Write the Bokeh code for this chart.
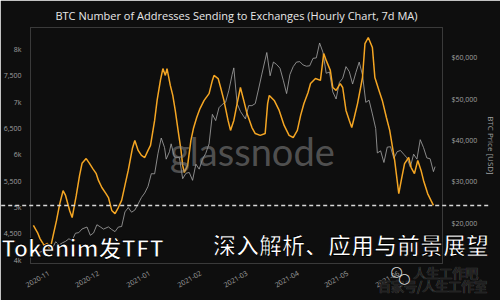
import math
from datetime import datetime
import pandas as pd
from bokeh.plotting import figure
from bokeh.models import (Range1d, LinearAxis, FixedTicker, DatetimeTickFormatter,
                          NumeralTickFormatter, ColumnDataSource)
from bokeh.core.properties import value
from bokeh.embed import file_html
from bokeh.resources import INLINE

# ---------------- data ----------------
title_text = "BTC Number of Addresses Sending to Exchanges (Hourly Chart, 7d MA)"
right_axis_title = "BTC Price [USD]"

addr_dates = [
    "2020-10-22 12:00", "2020-10-25", "2020-10-26 12:00", "2020-10-29", "2020-10-31",
    "2020-11-01 12:00", "2020-11-03 12:00", "2020-11-05 12:00", "2020-11-07 12:00", "2020-11-09 12:00",
    "2020-11-11", "2020-11-13 12:00", "2020-11-15", "2020-11-17 12:00", "2020-11-19 12:00",
    "2020-11-21", "2020-11-23 12:00", "2020-11-25 12:00", "2020-11-27 12:00", "2020-11-29 12:00",
    "2020-12-01", "2020-12-03", "2020-12-05 12:00", "2020-12-07", "2020-12-09",
    "2020-12-11", "2020-12-13", "2020-12-15", "2020-12-17", "2020-12-19",
    "2020-12-21 12:00", "2020-12-23", "2020-12-25", "2020-12-27", "2020-12-29",
    "2020-12-31", "2021-01-01 12:00", "2021-01-04", "2021-01-05 12:00", "2021-01-07 12:00",
    "2021-01-09", "2021-01-10 12:00", "2021-01-11 12:00", "2021-01-13 12:00", "2021-01-15",
    "2021-01-16 12:00", "2021-01-18 12:00", "2021-01-20", "2021-01-21", "2021-01-22",
    "2021-01-24", "2021-01-26", "2021-01-27 12:00", "2021-01-29 12:00", "2021-01-31 12:00",
    "2021-02-03", "2021-02-06", "2021-02-08", "2021-02-09", "2021-02-11 12:00",
    "2021-02-13", "2021-02-15", "2021-02-17 12:00", "2021-02-19", "2021-02-21",
    "2021-02-23", "2021-02-25", "2021-02-27", "2021-03-01", "2021-03-04",
    "2021-03-06", "2021-03-09", "2021-03-12", "2021-03-13 12:00", "2021-03-14 12:00",
    "2021-03-17 12:00", "2021-03-20 12:00", "2021-03-23 12:00", "2021-03-26 12:00", "2021-03-29",
    "2021-03-31 12:00", "2021-04-02 12:00", "2021-04-04 12:00", "2021-04-07", "2021-04-08 12:00",
    "2021-04-11 12:00", "2021-04-14 12:00", "2021-04-16 12:00", "2021-04-18", "2021-04-20 12:00",
    "2021-04-22", "2021-04-24", "2021-04-26 12:00", "2021-04-28", "2021-04-30",
    "2021-05-02", "2021-05-03 12:00", "2021-05-05", "2021-05-07", "2021-05-10",
    "2021-05-11 12:00", "2021-05-13 12:00", "2021-05-16", "2021-05-17 12:00", "2021-05-20",
    "2021-05-22", "2021-05-24 12:00", "2021-05-26 12:00", "2021-05-27 12:00", "2021-05-29 12:00",
    "2021-05-30 12:00", "2021-06-01", "2021-06-02 12:00", "2021-06-04 12:00", "2021-06-07",
    "2021-06-08 12:00", "2021-06-10 12:00", "2021-06-12 12:00", "2021-06-14 12:00", "2021-06-16",
    "2021-06-18 12:00", "2021-06-20 12:00", "2021-06-22",
]
addr_values = [
    4660, 4525, 4410, 4280, 4320,
    4180, 4470, 4750, 5075, 5320,
    5230, 4940, 4810, 5230, 5610,
    5840, 5930, 5840, 5740, 5650,
    5510, 5380, 5265, 5190, 4945,
    4885, 5000, 5135, 5420, 5705,
    6120, 6275, 6085, 5990, 5950,
    6085, 6180, 6655, 7035, 7415,
    7640, 7510, 7640, 7320, 7130,
    6845, 6405, 6085, 5800, 5665,
    5800, 6275, 6500, 6710, 6880,
    7035, 7165, 7415, 7510, 7450,
    7280, 7035, 6655, 6465, 6655,
    6975, 7280, 7035, 6785, 6520,
    6405, 6370, 6405, 6975, 7130,
    7035, 6845, 6560, 6370, 6330,
    6465, 6750, 6975, 7185, 7355,
    7450, 7415, 7925, 7795, 7605,
    7280, 7225, 7355, 7280, 6845,
    6655, 6520, 6710, 6975, 7470,
    8115, 8230, 8040, 7470, 7225,
    7035, 6710, 6465, 6275, 5895,
    5645, 5265, 5515, 5835, 5950,
    5760, 5645, 5895, 5705, 5515,
    5265, 5135, 5040,
]

price_dates = [
    "2020-10-21", "2020-10-23", "2020-10-26", "2020-10-28", "2020-10-30",
    "2020-11-01", "2020-11-03", "2020-11-05", "2020-11-07", "2020-11-09",
    "2020-11-11", "2020-11-13", "2020-11-15", "2020-11-17", "2020-11-19",
    "2020-11-21", "2020-11-24", "2020-11-26", "2020-11-28", "2020-11-30",
    "2020-12-02", "2020-12-04", "2020-12-07", "2020-12-09", "2020-12-11",
    "2020-12-13", "2020-12-15", "2020-12-17", "2020-12-19", "2020-12-21",
    "2020-12-23", "2020-12-25", "2020-12-27", "2020-12-29", "2020-12-31",
    "2021-01-02", "2021-01-04", "2021-01-06", "2021-01-08", "2021-01-10",
    "2021-01-11", "2021-01-13", "2021-01-14", "2021-01-16", "2021-01-19",
    "2021-01-21", "2021-01-23", "2021-01-25", "2021-01-27", "2021-01-29",
    "2021-01-31", "2021-02-02", "2021-02-04", "2021-02-06", "2021-02-08",
    "2021-02-10", "2021-02-12", "2021-02-14", "2021-02-16", "2021-02-18",
    "2021-02-20", "2021-02-21", "2021-02-23", "2021-02-25", "2021-02-28",
    "2021-03-02", "2021-03-04", "2021-03-06", "2021-03-08", "2021-03-10",
    "2021-03-13", "2021-03-15", "2021-03-17", "2021-03-19", "2021-03-21",
    "2021-03-23", "2021-03-25", "2021-03-27", "2021-03-29", "2021-03-31",
    "2021-04-02", "2021-04-04", "2021-04-06", "2021-04-08", "2021-04-10",
    "2021-04-12", "2021-04-14", "2021-04-16", "2021-04-18", "2021-04-20",
    "2021-04-22", "2021-04-24", "2021-04-26", "2021-04-28", "2021-04-30",
    "2021-05-02", "2021-05-04", "2021-05-06", "2021-05-08", "2021-05-10",
    "2021-05-12", "2021-05-14", "2021-05-16", "2021-05-18", "2021-05-19",
    "2021-05-21", "2021-05-23", "2021-05-25", "2021-05-27", "2021-05-29",
    "2021-05-31", "2021-06-02", "2021-06-04", "2021-06-06", "2021-06-08",
    "2021-06-10", "2021-06-12", "2021-06-14", "2021-06-16", "2021-06-18",
    "2021-06-20", "2021-06-22", "2021-06-23",
]
price_values = [
    12800, 12950, 13050, 13280, 13550,
    13740, 14000, 15600, 14830, 15330,
    15700, 16300, 15950, 17650, 17800,
    18680, 19150, 17150, 17730, 19700,
    19200, 18650, 19180, 18550, 18040,
    19150, 19270, 22800, 23850, 22720,
    23240, 24700, 26270, 27360, 28950,
    32000, 31970, 36800, 40600, 38300,
    35500, 37300, 39200, 36000, 35900,
    30800, 32100, 32300, 30400, 34300,
    33100, 35500, 36900, 39200, 46300,
    44800, 47900, 48700, 49200, 52100,
    55900, 57500, 48900, 47000, 45200,
    48400, 48400, 48900, 52400, 56000,
    61200, 55600, 58900, 58300, 57400,
    54500, 51300, 55900, 57800, 58900,
    59000, 58200, 57900, 58000, 59800,
    59900, 63500, 61300, 56200, 56500,
    51700, 50000, 54000, 55000, 57800,
    56600, 53600, 56400, 58900, 55800,
    49200, 49700, 46400, 42900, 37000,
    37500, 34700, 38400, 38500, 35700,
    37300, 37600, 36700, 35800, 33600,
    36700, 35500, 40200, 38300, 35800,
    35600, 32500, 33700,
]

left_ticks = [4000, 4500, 5000, 5500, 6000, 6500, 7000, 7500, 8000]
left_tick_labels = ["4k", "4,500", "5k", "5,500", "6k", "6,500", "7k", "7,500", "8k"]
right_ticks = [20000, 30000, 40000, 50000, 60000]
month_ticks = ["2020-11-01", "2020-12-01", "2021-01-01", "2021-02-01", "2021-03-01",
               "2021-04-01", "2021-05-01", "2021-06-01"]

overlay_left = "Tokenim发TFT"
overlay_right = "深入解析、应用与前景展望"
watermark = "glassnode"
credit_1 = "人生工作吧"
credit_2 = "百家号/人生工作室"

# ---------------- layout / style ----------------
BG = "#0e0e0e"
ORANGE = "#f5a623"
GREY = "#a8a8a8"
TICK_C = "#a0a0a0"
FONT = "Open Sans"
CJK = "Noto Sans CJK SC"

W, H = 500, 300
FL, FR, FT, FB = 30, 452, 27, 263
x0 = datetime(2020, 10, 20, 18)
x1 = datetime(2021, 6, 27, 12)
y_lo, y_hi = 3937, 8420
p_lo, p_hi = 10360, 67230


def ms(d):
    return pd.Timestamp(d).timestamp() * 1000.0


X0, X1 = ms(x0), ms(x1)


def px_x(px):
    return X0 + (X1 - X0) * (px - FL) / (FR - FL)


def px_y(py):
    return y_lo + (y_hi - y_lo) * (FB - py) / (FB - FT)


p = figure(width=W, height=H, x_axis_type="datetime",
           x_range=Range1d(X0, X1), y_range=Range1d(y_lo, y_hi),
           output_backend="svg", toolbar_location=None,
           min_border_left=FL, min_border_right=W - FR,
           min_border_top=FT, min_border_bottom=H - FB,
           background_fill_color=BG, border_fill_color=BG,
           outline_line_color="#3a3a3a")
p.grid.visible = False

p.title.text = title_text
p.title.align = "center"
p.title.text_color = "#e8e8e8"
p.title.text_font = FONT
p.title.text_font_size = "11px"
p.title.text_font_style = "normal"

p.extra_y_ranges = {"price": Range1d(p_lo, p_hi)}

price_src = ColumnDataSource(dict(x=[ms(d) for d in price_dates], y=price_values))
addr_src = ColumnDataSource(dict(x=[ms(d) for d in addr_dates], y=addr_values))
p.line("x", "y", source=price_src, y_range_name="price", line_color=GREY,
       line_width=1, line_alpha=0.8)
p.line("x", "y", source=addr_src, line_color=ORANGE, line_width=1.5)

# left axis
ya = p.yaxis[0]
ya.ticker = FixedTicker(ticks=left_ticks)
ya.major_label_overrides = {t: l for t, l in zip(left_ticks, left_tick_labels)}

# right axis
ra = LinearAxis(y_range_name="price", ticker=FixedTicker(ticks=right_ticks),
                formatter=NumeralTickFormatter(format="$0,0"),
                axis_label=right_axis_title)
p.add_layout(ra, "right")

xa = p.xaxis[0]
xa.ticker = FixedTicker(ticks=[ms(d) for d in month_ticks])
xa.formatter = DatetimeTickFormatter(years="%Y-%m", months="%Y-%m", days="%Y-%m",
                                     hours="%Y-%m", minutes="%Y-%m")
xa.major_label_orientation = math.radians(30)

for ax in [ya, ra, xa]:
    ax.major_label_text_font = FONT
    ax.major_label_text_font_size = "7px"
    ax.major_label_text_color = TICK_C
    ax.major_tick_line_color = None
    ax.minor_tick_line_color = None
    ax.axis_line_color = "#3a3a3a"
    ax.major_label_standoff = 3
ra.axis_label_text_font = FONT
ra.axis_label_text_font_size = "8px"
ra.axis_label_text_font_style = "normal"
ra.axis_label_text_color = TICK_C
ra.axis_label_standoff = 6

# ---------------- overlays (drawn at overlay level so they can leave the frame) ----------------
p.text(x=[px_x(173)], y=[px_y(150)], text=[watermark], text_font=value("Lato"),
       text_font_size="38px", text_color="#8a8a8a", text_alpha=0.55,
       text_baseline="middle", text_align="left", level="overlay")

p.segment(x0=[px_x(0)], y0=[px_y(205)], x1=[px_x(500)], y1=[px_y(205)],
          line_color="#d8d8d8", line_width=1.5, line_dash="4 3", level="overlay")

p.text(x=[px_x(0)], y=[px_y(246)], text=[overlay_left], text_font=value(CJK),
       text_font_style="bold", text_font_size="23px",
       text_color="white", text_outline_color="black",
       text_baseline="middle", text_align="left", level="overlay")
p.text(x=[px_x(217)], y=[px_y(243)], text=[overlay_right], text_font=value(CJK),
       text_font_style="bold", text_font_size="23px",
       text_color="white", text_outline_color="black",
       text_baseline="middle", text_align="left", level="overlay")

p.text(x=[px_x(422), px_x(386)], y=[px_y(272), px_y(285)],
       text=[credit_1, credit_2], text_font=value(CJK),
       text_font_size="13px", text_color="white", text_outline_color="#222222",
       text_baseline="middle", text_align="left", level="overlay")
p.text(x=[px_x(405), px_x(413)], y=[px_y(270), px_y(277)], text=["○", "○"],
       text_font=value("DejaVu Sans"), text_font_size="14px", text_color="#dddddd",
       text_baseline="middle", text_align="center", level="overlay")

open("out.html", "w").write(file_html(p, INLINE))
